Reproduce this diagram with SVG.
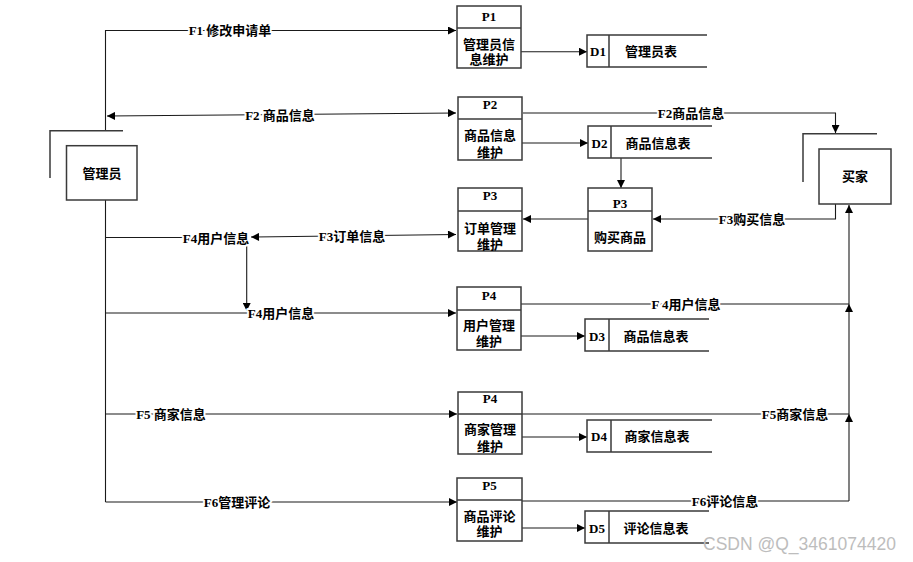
<svg xmlns="http://www.w3.org/2000/svg" width="913" height="562" viewBox="0 0 913 562">
<style>
.bg{fill:#fff}
.box{fill:#fff;stroke:#3a3a3a;stroke-width:1.5}
.ln{fill:none;stroke:#1a1a1a;stroke-width:1.1}
.st{fill:none;stroke:#3a3a3a;stroke-width:1.5}
text{font-family:"Liberation Serif","Noto Sans CJK SC",serif;font-weight:bold;font-size:13px;fill:#000;text-anchor:middle}
.lbl{paint-order:stroke;stroke:#fff;stroke-width:4px;stroke-linejoin:round}
.wm{font-family:"Liberation Sans",Arial,sans-serif;font-weight:normal;font-size:17.5px;fill:#bdbdbd;text-anchor:start}
</style>
<defs>
<marker id="arr" viewBox="0 0 10 10" refX="10" refY="5" markerWidth="11" markerHeight="8" markerUnits="userSpaceOnUse" orient="auto-start-reverse">
<path d="M0,0 L10,5 L0,10 z" fill="#000"/>
</marker>
</defs>
<rect class="bg" width="913" height="562"/>

<g id="connectors">
<path class="ln" d="M105.5,130.7 V30.5 H456" marker-end="url(#arr)"/>
<path class="ln" d="M105.5,200 V502"/>
<path class="ln" d="M107,116 L456,113" marker-start="url(#arr)" marker-end="url(#arr)"/>
<path class="ln" d="M105.5,237.5 H246"/>
<path class="ln" d="M251,237 L456,234.5" marker-start="url(#arr)" marker-end="url(#arr)"/>
<path class="ln" d="M246.7,243 V311" marker-end="url(#arr)"/>
<path class="ln" d="M105.5,313 H456" marker-end="url(#arr)"/>
<path class="ln" d="M105.5,414 H457" marker-end="url(#arr)"/>
<path class="ln" d="M105.5,502 H457" marker-end="url(#arr)"/>
<path class="ln" d="M521,51.7 H587" marker-end="url(#arr)"/>
<path class="ln" d="M522,143 H588" marker-end="url(#arr)"/>
<path class="ln" d="M523,113 H835.5 V133" marker-end="url(#arr)"/>
<path class="ln" d="M621,158 V188" marker-end="url(#arr)"/>
<path class="ln" d="M835.5,204 V219 H653" marker-end="url(#arr)"/>
<path class="ln" d="M588,219 H523" marker-end="url(#arr)"/>
<path class="ln" d="M849,501 V414" marker-end="url(#arr)"/>
<path class="ln" d="M849,414 V304" marker-end="url(#arr)"/>
<path class="ln" d="M849,304 V205" marker-end="url(#arr)"/>
<path class="ln" d="M521,304 H849"/>
<path class="ln" d="M458,414 H849"/>
<path class="ln" d="M507,501 H849"/>
<path class="ln" d="M521,336 H585" marker-end="url(#arr)"/>
<path class="ln" d="M522,437 H587" marker-end="url(#arr)"/>
<path class="ln" d="M522,528 H585" marker-end="url(#arr)"/>

<text class="lbl" x="230" y="35">F1 修改申请单</text>
<text class="lbl" x="280" y="119.5">F2 商品信息</text>
<text class="lbl" x="216" y="242.5">F4用户信息</text>
<text class="lbl" x="352" y="240.5">F3订单信息</text>
<text class="lbl" x="281" y="317.5">F4用户信息</text>
<text class="lbl" x="171" y="418.5">F5 商家信息</text>
<text class="lbl" x="237" y="506.5">F6管理评论</text>
<text class="lbl" x="691" y="117.5">F2商品信息</text>
<text class="lbl" x="752" y="223.5">F3购买信息</text>
<text class="lbl" x="686" y="308.5">F 4用户信息</text>
<text class="lbl" x="795" y="418.5">F5商家信息</text>
<text class="lbl" x="725" y="505.5">F6评论信息</text>
</g>

<g id="admin">
<path class="st" d="M50,178 V130.7 H123"/>
<rect class="box" x="66.5" y="145.7" width="70.5" height="54.3"/>
<text x="102" y="177.5">管理员</text>
</g>

<g id="buyer">
<path class="st" d="M803,182 V133.7 H877"/>
<rect class="box" x="819" y="149" width="72" height="55"/>
<text x="855" y="180.5">买家</text>
</g>

<g id="p1">
<rect class="box" x="457" y="6" width="64" height="62"/>
<line class="st" x1="457" y1="28" x2="521" y2="28"/>
<text x="489" y="21">P1</text>
<text x="489" y="48.5">管理员信</text>
<text x="489" y="63.5">息维护</text>
</g>

<g id="p2">
<rect class="box" x="458" y="97" width="64" height="63"/>
<line class="st" x1="458" y1="119" x2="522" y2="119"/>
<text x="490" y="109">P2</text>
<text x="490" y="139.5">商品信息</text>
<text x="490" y="156.5">维护</text>
</g>

<g id="p3-order">
<rect class="box" x="458" y="188" width="64" height="63"/>
<line class="st" x1="458" y1="211" x2="522" y2="211"/>
<text x="490" y="200">P3</text>
<text x="490" y="232.5">订单管理</text>
<text x="490" y="248.5">维护</text>
</g>

<g id="p3-buy">
<rect class="box" x="588" y="188" width="64" height="63"/>
<line class="st" x1="588" y1="211" x2="652" y2="211"/>
<text x="620" y="208">P3</text>
<text x="620" y="241.5">购买商品</text>
</g>

<g id="p4-user">
<rect class="box" x="457" y="287" width="64" height="63"/>
<line class="st" x1="457" y1="310" x2="521" y2="310"/>
<text x="489" y="300">P4</text>
<text x="489" y="329.5">用户管理</text>
<text x="489" y="345.5">维护</text>
</g>

<g id="p4-merchant">
<rect class="box" x="458" y="392" width="64" height="62"/>
<line class="st" x1="458" y1="414" x2="522" y2="414"/>
<text x="490" y="403">P4</text>
<text x="490" y="433.5">商家管理</text>
<text x="490" y="450.5">维护</text>
</g>

<g id="p5">
<rect class="box" x="457" y="478" width="65" height="63"/>
<line class="st" x1="457" y1="500" x2="522" y2="500"/>
<text x="489.5" y="490">P5</text>
<text x="489.5" y="520.5">商品评论</text>
<text x="489.5" y="536">维护</text>
</g>

<g id="d1">
<path class="st" d="M707,35 H587 V67 H707 M609,35 V67"/>
<text x="598" y="56">D1</text>
<text x="651" y="56">管理员表</text>
</g>

<g id="d2">
<path class="st" d="M712,126 H588 V158 H712 M611,126 V158"/>
<text x="599.5" y="147.5">D2</text>
<text x="658" y="147.5">商品信息表</text>
</g>

<g id="d3">
<path class="st" d="M709,319 H585 V351 H709 M609,319 V351"/>
<text x="597" y="340.5">D3</text>
<text x="656" y="340.5">商品信息表</text>
</g>

<g id="d4">
<path class="st" d="M712,420 H587 V452 H712 M611,420 V452"/>
<text x="599" y="440.5">D4</text>
<text x="657" y="440.5">商家信息表</text>
</g>

<g id="d5">
<path class="st" d="M709,511 H585 V543 H709 M609,511 V543"/>
<text x="597" y="532.5">D5</text>
<text x="656" y="532.5">评论信息表</text>
</g>

<text class="wm" x="703" y="550">CSDN @Q_3461074420</text>
</svg>
